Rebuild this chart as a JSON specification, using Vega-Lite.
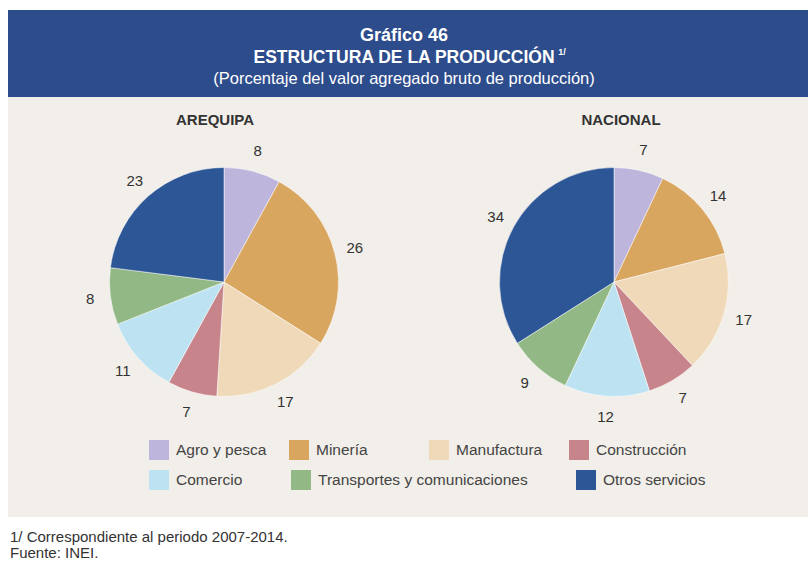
{
  "$schema": "https://vega.github.io/schema/vega-lite/v6.json",
  "background": "white",
  "padding": {"left": 8, "top": 10, "right": 0, "bottom": 0},
  "config": {"font": "Liberation Sans", "view": {"stroke": null}, "concat": {"spacing": 0}},
  "title": {
    "text": ["1/ Correspondiente al periodo 2007-2014.", "Fuente: INEI."],
    "orient": "bottom", "anchor": "start", "fontSize": 15, "fontWeight": "normal",
    "color": "#333333", "lineHeight": 16, "offset": 13, "dx": 2, "font": "Liberation Sans"
  },
  "datasets": {
    "prod": [
      {"region": "AREQUIPA", "category": "Agro y pesca", "value": 8, "orden": 1},
      {"region": "AREQUIPA", "category": "Minería", "value": 26, "orden": 2},
      {"region": "AREQUIPA", "category": "Manufactura", "value": 17, "orden": 3},
      {"region": "AREQUIPA", "category": "Construcción", "value": 7, "orden": 4},
      {"region": "AREQUIPA", "category": "Comercio", "value": 11, "orden": 5},
      {"region": "AREQUIPA", "category": "Transportes y comunicaciones", "value": 8, "orden": 6},
      {"region": "AREQUIPA", "category": "Otros servicios", "value": 23, "orden": 7},
      {"region": "NACIONAL", "category": "Agro y pesca", "value": 7, "orden": 1},
      {"region": "NACIONAL", "category": "Minería", "value": 14, "orden": 2},
      {"region": "NACIONAL", "category": "Manufactura", "value": 17, "orden": 3},
      {"region": "NACIONAL", "category": "Construcción", "value": 7, "orden": 4},
      {"region": "NACIONAL", "category": "Comercio", "value": 12, "orden": 5},
      {"region": "NACIONAL", "category": "Transportes y comunicaciones", "value": 9, "orden": 6},
      {"region": "NACIONAL", "category": "Otros servicios", "value": 34, "orden": 7}
    ]
  },
  "vconcat": [
    {
      "width": 800,
      "height": 87,
      "view": {"fill": "#2D4C8B", "stroke": null},
      "layer": [
        {
          "data": {"values": [{"t": "Gráfico 46"}]},
          "mark": {"type": "text", "fontSize": 18, "fontWeight": "bold", "fill": "white", "dx": -4, "dy": -18},
          "encoding": {"text": {"field": "t"}}
        },
        {
          "data": {"values": [{"t": "ESTRUCTURA DE LA PRODUCCIÓN"}]},
          "mark": {"type": "text", "fontSize": 17.5, "fontWeight": "bold", "fill": "white", "dx": -4, "dy": 4.5},
          "encoding": {"text": {"field": "t"}}
        },
        {
          "data": {"values": [{"t": "1/"}]},
          "mark": {"type": "text", "fontSize": 9, "fontWeight": "bold", "fill": "white", "dx": 154, "dy": -1.5},
          "encoding": {"text": {"field": "t"}}
        },
        {
          "data": {"values": [{"t": "(Porcentaje del valor agregado bruto de producción)"}]},
          "mark": {"type": "text", "fontSize": 16.5, "fill": "white", "dx": -4, "dy": 25.5},
          "encoding": {"text": {"field": "t"}}
        }
      ]
    },
    {
      "width": 800,
      "height": 420,
      "view": {"fill": "#F2EEE9", "stroke": null},
      "data": {"name": "prod"},
      "resolve": {"scale": {"color": "independent"}},
      "encoding": {
        "x": {"field": "region", "type": "nominal", "axis": null,
              "scale": {"type": "point", "domain": ["AREQUIPA", "NACIONAL"], "range": [216, 606], "padding": 0}},
        "y": {"field": "region", "type": "nominal", "axis": null,
              "scale": {"type": "point", "domain": ["AREQUIPA", "NACIONAL"], "range": [185, 185], "padding": 0}}
      },
      "layer": [
        {
          "transform": [{"filter": "datum.region === 'AREQUIPA' && datum.orden <= 4"}],
          "mark": {"type": "square", "size": 1, "opacity": 1},
          "encoding": {
            "color": {"field": "category", "type": "nominal",
              "scale": {"domain": ["Agro y pesca", "Minería", "Manufactura", "Construcción"],
                        "range": ["#BDB5DB", "#D9A660", "#EFD9B9", "#C7858B"]},
              "legend": {"orient": "none", "legendX": 141, "legendY": 343, "direction": "horizontal",
                         "columns": 4, "gridAlign": "all", "columnPadding": 22, "symbolType": "square",
                         "symbolSize": 400, "symbolStrokeWidth": 0, "symbolOpacity": 1, "labelFontSize": 15.5,
                         "labelOffset": 7, "labelColor": "#444444", "labelFont": "Liberation Sans",
                         "labelLimit": 400, "title": null, "padding": 0}}
          }
        },
        {
          "transform": [{"filter": "datum.region === 'AREQUIPA' && datum.orden >= 5"}],
          "mark": {"type": "square", "size": 1, "opacity": 1},
          "encoding": {
            "color": {"field": "category", "type": "nominal",
              "scale": {"domain": ["Comercio", "Transportes y comunicaciones", "Otros servicios"],
                        "range": ["#BDE3F2", "#92B985", "#2D5696"]},
              "legend": {"orient": "none", "legendX": 141, "legendY": 373, "direction": "horizontal",
                         "columns": 3, "gridAlign": "none", "columnPadding": 48, "symbolType": "square",
                         "symbolSize": 400, "symbolStrokeWidth": 0, "symbolOpacity": 1, "labelFontSize": 15.5,
                         "labelOffset": 7, "labelColor": "#444444", "labelFont": "Liberation Sans",
                         "labelLimit": 400, "title": null, "padding": 0}}
          }
        },
        {
          "transform": [{"filter": "datum.region === 'AREQUIPA'"}],
          "mark": {"type": "arc", "outerRadius": 114.5, "stroke": "#ffffff", "strokeWidth": 0.5},
          "encoding": {
            "theta": {"field": "value", "type": "quantitative", "stack": true},
            "order": {"field": "orden", "type": "quantitative"},
            "color": {"field": "category", "type": "nominal", "legend": null,
              "scale": {"domain": ["Agro y pesca", "Minería", "Manufactura", "Construcción", "Comercio", "Transportes y comunicaciones", "Otros servicios"],
                        "range": ["#BDB5DB", "#D9A660", "#EFD9B9", "#C7858B", "#BDE3F2", "#92B985", "#2D5696"]}}
          }
        },
        {
          "transform": [{"filter": "datum.region === 'NACIONAL'"}],
          "mark": {"type": "arc", "outerRadius": 114.5, "stroke": "#ffffff", "strokeWidth": 0.5},
          "encoding": {
            "theta": {"field": "value", "type": "quantitative", "stack": true},
            "order": {"field": "orden", "type": "quantitative"},
            "color": {"field": "category", "type": "nominal", "legend": null,
              "scale": {"domain": ["Agro y pesca", "Minería", "Manufactura", "Construcción", "Comercio", "Transportes y comunicaciones", "Otros servicios"],
                        "range": ["#BDB5DB", "#D9A660", "#EFD9B9", "#C7858B", "#BDE3F2", "#92B985", "#2D5696"]}}
          }
        },
        {
          "transform": [{"filter": "datum.region === 'AREQUIPA'"}],
          "mark": {"type": "text", "radius": 135, "fontSize": 15, "fill": "#333333"},
          "encoding": {
            "theta": {"field": "value", "type": "quantitative", "stack": true},
            "order": {"field": "orden", "type": "quantitative"},
            "detail": {"field": "category", "type": "nominal"},
            "text": {"field": "value", "type": "quantitative"}
          }
        },
        {
          "transform": [{"filter": "datum.region === 'NACIONAL'"}],
          "mark": {"type": "text", "radius": 135, "fontSize": 15, "fill": "#333333"},
          "encoding": {
            "theta": {"field": "value", "type": "quantitative", "stack": true},
            "order": {"field": "orden", "type": "quantitative"},
            "detail": {"field": "category", "type": "nominal"},
            "text": {"field": "value", "type": "quantitative"}
          }
        },
        {
          "transform": [{"filter": "datum.orden === 1 && datum.region === 'AREQUIPA'"}],
          "mark": {"type": "text", "fontSize": 15, "fontWeight": "bold", "fill": "#333333", "dy": -162, "dx": -9},
          "encoding": {"text": {"field": "region", "type": "nominal"}}
        },
        {
          "transform": [{"filter": "datum.orden === 1 && datum.region === 'NACIONAL'"}],
          "mark": {"type": "text", "fontSize": 15, "fontWeight": "bold", "fill": "#333333", "dy": -162, "dx": 7},
          "encoding": {"text": {"field": "region", "type": "nominal"}}
        }
      ]
    }
  ]
}
